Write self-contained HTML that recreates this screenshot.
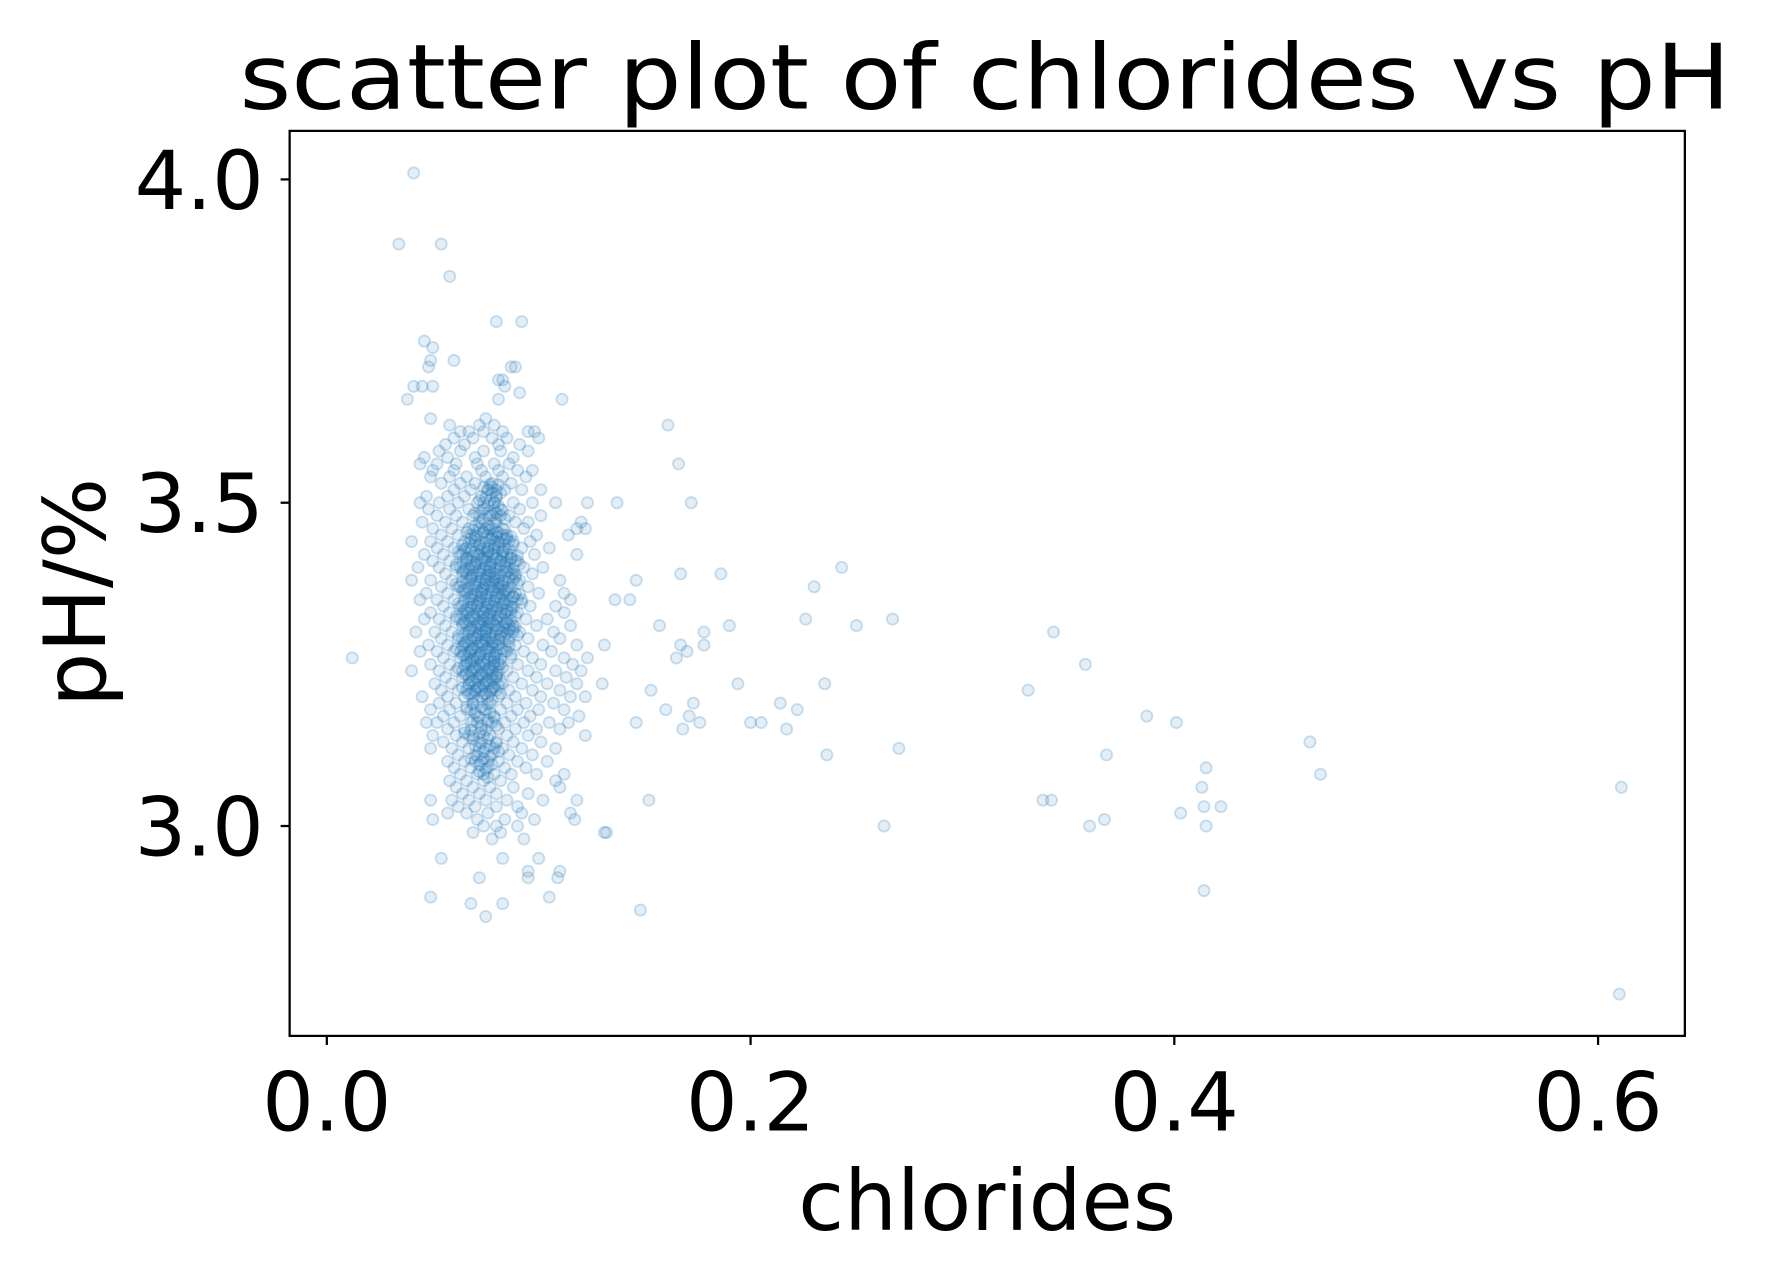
<!DOCTYPE html>
<html><head><meta charset="utf-8"><style>
html,body{margin:0;padding:0;background:#fff;}
svg{display:block;}
text{font-family:"DejaVu Sans","Liberation Sans",sans-serif;fill:#000;}
</style></head><body>
<svg id="chart" width="1766" height="1274" viewBox="0 0 1567 1129" preserveAspectRatio="none" xmlns="http://www.w3.org/2000/svg">
<rect width="1567" height="1129" fill="#fff"/>
<text x="874" y="96" font-size="80" text-anchor="middle" textLength="1323" lengthAdjust="spacingAndGlyphs">scatter plot of chlorides vs pH</text>
<g id="marks"></g>
<rect x="257" y="116" width="1238" height="802" fill="none" stroke="#000" stroke-width="2"/>
<g id="axes"></g>
<text x="876" y="1090" font-size="74" text-anchor="middle">chlorides</text>
<text transform="translate(93,525) rotate(-90)" font-size="76" text-anchor="middle">pH/%</text>
</svg>
<script>
const xTicks = [0.0, 0.2, 0.4, 0.6];
const xTickLabels = ["0.0", "0.2", "0.4", "0.6"];
const yTicks = [3.0, 3.5, 4.0];
const yTickLabels = ["3.0", "3.5", "4.0"];

const outlierChlorides = [.041,.034,.054,.058,.012,.080,.092,.161,.166,.172,.137,.167,.186,.146,.230,.243,.136,.143,.226,.267,.250,.157,.190,.178,.343,.131,.167,.170,.165,.178,.358,.194,.235,.153,.331,.214,.222,.173,.160,.171,.387,.401,.200,.205,.146,.217,.168,.176,.464,.270,.236,.368,.415,.469,.413,.611,.152,.338,.342,.403,.414,.422,.263,.360,.367,.415,.414,.148,.610,.132];
const outlierPH = [4.01,3.90,3.90,3.85,3.26,3.78,3.78,3.62,3.56,3.50,3.50,3.39,3.39,3.38,3.37,3.40,3.35,3.35,3.32,3.32,3.31,3.31,3.31,3.30,3.30,3.28,3.28,3.27,3.26,3.28,3.25,3.22,3.22,3.21,3.21,3.19,3.18,3.19,3.18,3.17,3.17,3.16,3.16,3.16,3.16,3.15,3.15,3.16,3.13,3.12,3.11,3.11,3.09,3.08,3.06,3.06,3.04,3.04,3.04,3.02,3.03,3.03,3.00,3.00,3.01,3.00,2.90,2.87,2.74,2.99];

const clusterPH = [3.75,3.74,3.72,3.71,3.69,3.68,3.67,3.66,3.63,3.62,3.61,3.60,3.59,3.58,3.57,3.56,3.55,3.54,3.53,3.52,3.51,3.50,3.49,3.48,3.47,3.46,3.45,3.44,3.43,3.42,3.41,3.40,3.39,3.38,3.37,3.36,3.35,3.34,3.33,3.32,3.31,3.30,3.29,3.28,3.27,3.26,3.25,3.24,3.23,3.22,3.21,3.20,3.19,3.18,3.17,3.16,3.15,3.14,3.13,3.12,3.11,3.10,3.09,3.08,3.07,3.06,3.05,3.04,3.03,3.02,3.01,3.00,2.99,2.98,2.95,2.93,2.92,2.89,2.88,2.86];
const clusterChlorides = [
[.046],[.050],[.049,.060],[.048,.087,.089],[.081,.083],[.041,.045,.050,.084],[.091],[.038,.081,.111],[.049,.075],[.058,.072,.079],
[.063,.067,.074,.083,.095,.098],[.060,.069,.078,.085,.100],[.056,.065,.081,.091],[.053,.063,.074,.082,.095],[.046,.057,.070,.088],
[.044,.052,.061,.071,.079,.086],[.050,.060,.073,.081,.090,.097],[.049,.058,.066,.075,.083,.094],[.054,.063,.070,.078,.087],
[.060,.068,.076,.084,.092,.101],[.047,.057,.065,.073,.080],[.044,.053,.062,.071,.079,.088,.097,.108,.123],[.048,.058,.067,.074,.082,.091],
[.052,.061,.069,.077,.086,.101],[.045,.056,.064,.072,.080,.089,.095,.120],[.050,.059,.067,.075,.083,.093,.118,.122],
[.054,.062,.070,.078,.085,.099,.114],[.040,.049,.057,.065,.073,.081,.088,.096],[.052,.060,.068,.076,.084,.092,.105],
[.046,.055,.063,.071,.079,.087,.098,.118],[.050,.058,.066,.074,.082,.090],[.043,.053,.061,.069,.077,.085,.093,.102],
[.056,.064,.072,.080,.088,.097],[.040,.049,.059,.067,.075,.083,.091,.110],[.054,.062,.070,.078,.086,.095],
[.047,.057,.065,.073,.081,.089,.100,.112],[.044,.052,.060,.068,.076,.084,.092,.115],[.055,.063,.071,.079,.087,.096,.108],
[.049,.058,.066,.074,.082,.090,.112],[.046,.053,.061,.069,.077,.085,.094,.104],[.056,.064,.072,.080,.088,.099,.115],
[.042,.051,.059,.067,.075,.083,.091,.107],[.054,.062,.070,.078,.086,.095,.110],[.048,.057,.065,.073,.081,.089,.102,.118],
[.044,.052,.060,.068,.076,.084,.093,.106],[.055,.063,.071,.079,.087,.097,.112,.123],[.049,.058,.066,.074,.082,.090,.101,.116],
[.040,.053,.061,.069,.077,.085,.095,.108,.120],[.056,.064,.072,.080,.088,.099,.113],[.051,.059,.067,.075,.083,.092,.104,.118,.130],
[.054,.062,.070,.078,.086,.097,.110],[.045,.057,.065,.073,.081,.089,.101,.115,.122],[.053,.061,.069,.077,.085,.094,.107],
[.049,.058,.066,.074,.082,.090,.100,.112],[.055,.063,.071,.079,.087,.096,.119],[.047,.052,.060,.068,.076,.084,.093,.105,.114],
[.057,.065,.073,.081,.089,.099,.110],[.050,.061,.069,.077,.085,.095,.122],[.055,.064,.072,.080,.088,.101],
[.049,.059,.067,.075,.083,.092,.108],[.062,.070,.078,.086,.097],[.057,.065,.073,.081,.090,.104],[.060,.068,.076,.084,.094],
[.063,.071,.079,.087,.099,.112],[.058,.066,.074,.082,.108],[.061,.069,.077,.088,.110],[.064,.072,.080,.095],
[.049,.059,.067,.075,.085,.102,.118],[.062,.070,.080,.090],[.057,.066,.076,.092,.115],[.050,.071,.084,.098,.117],
[.074,.080,.090],[.069,.082,.131],[.078,.093],[.054,.083,.100],[.095,.110],[.072,.095,.109],[.049,.105],[.068,.083],[.075]
];

const corePH = [3.52,3.50,3.48,3.46,3.45,3.44,3.43,3.42,3.41,3.40,3.39,3.38,3.37,3.36,3.35,3.34,3.33,3.32,3.31,3.30,3.29,3.28,3.27,3.26,3.25,3.24,3.23,3.22,3.21,3.20,3.18,3.16,3.14,3.12,3.10,3.08];
const coreChlorides = [
[.076,.080],[.074,.079],[.072,.078,.082],[.072,.078],[.068,.076,.083],[.070,.079,.086],[.066,.074,.081],[.064,.072,.078,.085],[.068,.075,.082,.089],[.063,.070,.077,.084],
[.066,.073,.079,.087],[.068,.075,.081,.088],[.063,.071,.077,.083],[.066,.073,.080,.086],[.069,.075,.082,.090],[.064,.071,.078,.085],
[.067,.074,.080,.087],[.063,.070,.076,.083],[.066,.073,.079,.086],[.069,.075,.082,.088],[.064,.071,.077,.084],[.067,.074,.080],
[.063,.070,.077,.085],[.066,.072,.079],[.068,.075,.081],[.064,.071,.078],[.067,.074,.080],[.070,.077],[.066,.073,.080],[.069,.076],
[.068,.075],[.071,.078],[.067,.074],[.072,.079],[.070,.076],[.074]
];

const X0 = 290, XPER = 376 / 0.2;
const Y0 = 732, YPER = 573;
function xScale(v){ return X0 + v * XPER; }
function yScale(v){ return Y0 - (v - 3.0) * YPER; }

const NS = "http://www.w3.org/2000/svg";
const marks = document.getElementById("marks");
const axes = document.getElementById("axes");

function addPoint(x, y){
  const c = document.createElementNS(NS, "circle");
  c.setAttribute("cx", xScale(x));
  c.setAttribute("cy", yScale(y));
  c.setAttribute("r", 5.0);
  c.setAttribute("fill", "#1f77b4");
  c.setAttribute("fill-opacity", "0.12");
  c.setAttribute("stroke", "#1f77b4");
  c.setAttribute("stroke-opacity", "0.22");
  c.setAttribute("stroke-width", "1.6");
  
  
  marks.appendChild(c);
}
clusterPH.forEach(function(y, i){ clusterChlorides[i].forEach(function(x){ addPoint(x, y); }); });
corePH.forEach(function(y, i){ coreChlorides[i].forEach(function(x){
  addPoint(x, y); addPoint(x + 0.002, y - 0.005); addPoint(x - 0.002, y + 0.004); addPoint(x + 0.001, y + 0.008);
}); });
outlierChlorides.forEach(function(x, i){ addPoint(x, outlierPH[i]); });

xTicks.forEach(function(v, i){
  const px = xScale(v);
  const l = document.createElementNS(NS, "line");
  l.setAttribute("x1", px); l.setAttribute("x2", px);
  l.setAttribute("y1", 918); l.setAttribute("y2", 926);
  l.setAttribute("stroke", "#000"); l.setAttribute("stroke-width", "2");
  
  
  axes.appendChild(l);
  const t = document.createElementNS(NS, "text");
  t.setAttribute("x", px); t.setAttribute("y", 1002);
  t.setAttribute("font-size", "72"); t.setAttribute("text-anchor", "middle");
  t.textContent = xTickLabels[i];
  
  
  axes.appendChild(t);
});
yTicks.forEach(function(v, i){
  const py = yScale(v);
  const l = document.createElementNS(NS, "line");
  l.setAttribute("x1", 249); l.setAttribute("x2", 257);
  l.setAttribute("y1", py); l.setAttribute("y2", py);
  l.setAttribute("stroke", "#000"); l.setAttribute("stroke-width", "2");
  
  
  axes.appendChild(l);
  const t = document.createElementNS(NS, "text");
  t.setAttribute("x", 234); t.setAttribute("y", py + 26);
  t.setAttribute("font-size", "72"); t.setAttribute("text-anchor", "end");
  t.textContent = yTickLabels[i];
  
  
  axes.appendChild(t);
});
</script>
</body></html>
